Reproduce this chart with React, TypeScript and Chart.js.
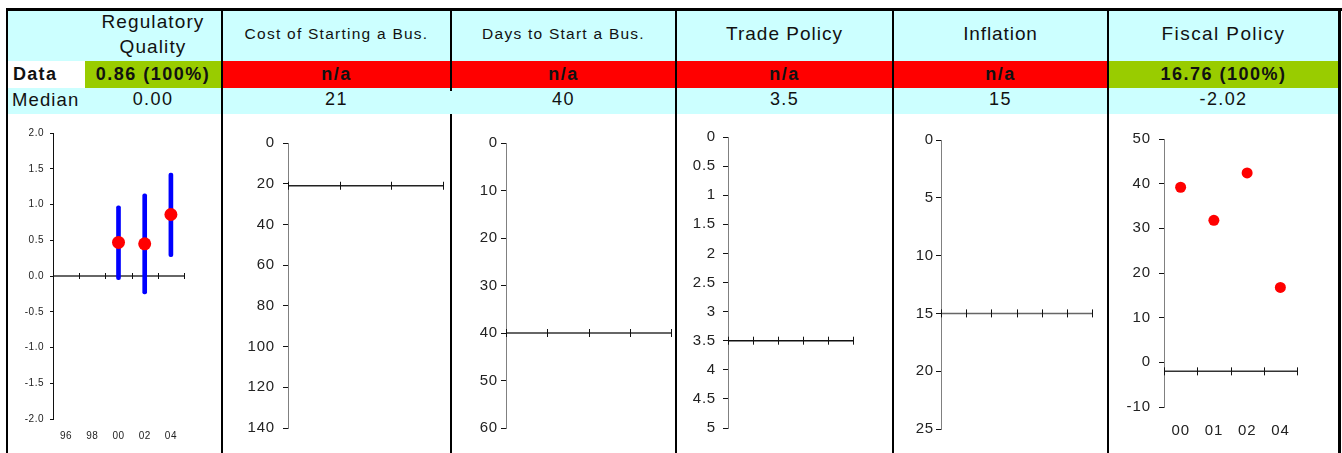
import React, { useEffect, useRef } from 'react';
import { Chart, registerables } from 'chart.js';

Chart.register(...registerables);

// ---------- DATA ----------
const HEADER_TITLES = ['Regulatory Quality', 'Cost of Starting a Bus.', 'Days to Start a Bus.', 'Trade Policy', 'Inflation', 'Fiscal Policy'];
const DATA_LABELS = ['0.86 (100%)', 'n/a', 'n/a', 'n/a', 'n/a', '16.76 (100%)'];
const DATA_AVAILABLE = [true, false, false, false, false, true];
const MEDIAN_LABELS = ['0.00', '21', '40', '3.5', '15', '-2.02'];

// Regulatory Quality
const REG_YEARS = ['96', '98', '00', '02', '04'];
const REG_VALUES = [null, null, 0.47, 0.45, 0.86];
const REG_LOW = [null, null, -0.05, -0.25, 0.27];
const REG_HIGH = [null, null, 0.98, 1.15, 1.44];
const REG_MEDIAN = 0.0;

// Cost of Starting a Business (no data)
const COST_CATS = ['', '', ''];
const COST_VALUES = [null, null, null];
const COST_MEDIAN = 21;

// Days to Start a Business (no data)
const DAYS_CATS = ['', '', '', ''];
const DAYS_VALUES = [null, null, null, null];
const DAYS_MEDIAN = 40;

// Trade Policy (no data)
const TRADE_CATS = ['', '', '', '', ''];
const TRADE_VALUES = [null, null, null, null, null];
const TRADE_MEDIAN = 3.5;

// Inflation (no data)
const INFL_CATS = ['', '', '', '', '', ''];
const INFL_VALUES = [null, null, null, null, null, null];
const INFL_MEDIAN = 15;

// Fiscal Policy
const FISC_YEARS = ['00', '01', '02', '04'];
const FISC_VALUES = [39.2, 31.8, 42.4, 16.76];
const FISC_MEDIAN = -2.02;

// ---------- STYLE ----------
const FONT = '"Liberation Sans", Arial, Helvetica, sans-serif';
const CYAN = '#CCFFFF';
const GREEN = '#99CC00';
const RED = '#FF0000';
const COLS = [
  { l: 8, r: 221 },
  { l: 223, r: 450 },
  { l: 452, r: 675 },
  { l: 677, r: 892 },
  { l: 894, r: 1107 },
  { l: 1109, r: 1338 },
];
const HEADER_FONT = [19, 15.5, 15.5, 19, 19, 19];
const HEADER_LS = [1.1, 1.25, 1.25, 1.0, 0.9, 1.4];
const CHART_TOP = 115;
const CHART_H = 338;

// ---------- PLUGINS ----------
const medianLine = {
  id: 'medianLine',
  beforeDatasetsDraw(chart: any, _args: any, opts: any) {
    if (opts == null || opts.value == null) return;
    const { ctx, chartArea } = chart;
    const y = chart.scales.y.getPixelForValue(opts.value);
    const n = chart.data.labels.length;
    const x0 = chartArea.left;
    const x1 = chartArea.right;
    ctx.save();
    ctx.strokeStyle = opts.color;
    ctx.lineWidth = opts.width;
    ctx.beginPath();
    ctx.moveTo(x0, y);
    ctx.lineTo(x1, y);
    ctx.stroke();
    ctx.strokeStyle = opts.tickColor;
    ctx.lineWidth = 1;
    ctx.beginPath();
    for (let i = 0; i <= n; i++) {
      const x = Math.round(x0 + (i * (x1 - x0)) / n) + 0.5;
      ctx.moveTo(x, y - opts.tick);
      ctx.lineTo(x, y + opts.tick);
    }
    ctx.stroke();
    ctx.restore();
  },
};

const spacing = {
  id: 'spacing',
  beforeDraw(chart: any, _args: any, opts: any) {
    try {
      (chart.ctx as any).letterSpacing = (opts && opts.px ? opts.px : 0) + 'px';
    } catch (e) {}
  },
};

type YOpts = {
  min: number; max: number; step: number; reverse: boolean; width: number; pad: number;
  tickLen: number; size: number; border: string; fmt?: (v: number) => string;
};

function yAxis(o: YOpts) {
  const ticks: any = {
    stepSize: o.step, padding: o.pad, color: '#222', autoSkip: false,
    font: { family: FONT, size: o.size },
  };
  if (o.fmt) ticks.callback = (v: any) => o.fmt!(Number(v));
  return {
    type: 'linear', min: o.min, max: o.max, reverse: o.reverse,
    afterFit: (s: any) => { s.width = o.width; },
    border: { display: true, color: o.border, width: 1 },
    grid: { drawOnChartArea: false, drawTicks: true, tickLength: o.tickLen, color: '#111', lineWidth: 1 },
    ticks,
  };
}

function xAxis(show: boolean, height: number, pad: number, size: number) {
  return {
    type: 'category', offset: true, display: show,
    afterFit: (s: any) => { s.height = height; },
    border: { display: false },
    grid: { display: false, drawTicks: false },
    ticks: { padding: pad, color: '#222', autoSkip: false, maxRotation: 0, font: { family: FONT, size } },
  };
}

function baseOptions(layout: any, scales: any, median: any, ls: number) {
  return {
    responsive: false,
    animation: false,
    devicePixelRatio: 1,
    layout: { padding: layout },
    scales,
    plugins: {
      legend: { display: false },
      tooltip: { enabled: false },
      medianLine: median,
      spacing: { px: ls },
    },
  };
}

const plain = (v: number) => String(Math.round(v * 100) / 100);

function emptyConfig(cats: string[], values: (number | null)[], median: number, y: YOpts, layout: any, lineColor: string) {
  return {
    type: 'line',
    data: { labels: cats, datasets: [{ data: values, showLine: false, pointRadius: 0 }] },
    options: baseOptions(layout, { x: xAxis(false, 0, 0, 12), y: yAxis(y) },
      { value: median, color: lineColor, tickColor: '#111', width: 1.5, tick: 4 }, 0.8),
    plugins: [medianLine, spacing],
  };
}

const PANELS: { col: number; make: () => any }[] = [
  {
    col: 0,
    make: () => ({
      type: 'bar',
      data: {
        labels: REG_YEARS,
        datasets: [
          {
            type: 'line', data: REG_VALUES, showLine: false, pointRadius: 6.5, pointHoverRadius: 6.5,
            pointBackgroundColor: RED, pointBorderColor: RED, pointBorderWidth: 0, order: 0,
          },
          {
            type: 'bar',
            data: REG_YEARS.map((_, i) => (REG_LOW[i] == null ? null : [REG_LOW[i], REG_HIGH[i]])),
            backgroundColor: '#0000FF', barThickness: 4, borderRadius: 2, borderSkipped: false, order: 1,
          },
        ],
      },
      options: baseOptions(
        { left: 0, right: 37, top: 18, bottom: 0 },
        {
          x: xAxis(true, 34, 11, 10),
          y: yAxis({ min: -2, max: 2, step: 0.5, reverse: false, width: 45, pad: 6, tickLen: 3, size: 10, border: '#111', fmt: (v) => v.toFixed(1) }),
        },
        { value: REG_MEDIAN, color: '#333', tickColor: '#111', width: 1.3, tick: 3 },
        0.5
      ),
      plugins: [medianLine, spacing],
    }),
  },
  {
    col: 1,
    make: () => emptyConfig(COST_CATS, COST_VALUES, COST_MEDIAN,
      { min: 0, max: 140, step: 20, reverse: true, width: 65, pad: 8, tickLen: 5, size: 15, border: '#808080', fmt: plain },
      { left: 0, right: 7, top: 28, bottom: 25 }, '#222'),
  },
  {
    col: 2,
    make: () => emptyConfig(DAYS_CATS, DAYS_VALUES, DAYS_MEDIAN,
      { min: 0, max: 60, step: 10, reverse: true, width: 54, pad: 3, tickLen: 5, size: 15, border: '#808080', fmt: plain },
      { left: 0, right: 4, top: 28, bottom: 25 }, '#333'),
  },
  {
    col: 3,
    make: () => emptyConfig(TRADE_CATS, TRADE_VALUES, TRADE_MEDIAN,
      { min: 0, max: 5, step: 0.5, reverse: true, width: 51, pad: 7, tickLen: 5, size: 15, border: '#808080', fmt: plain },
      { left: 0, right: 39, top: 22, bottom: 25 }, '#111'),
  },
  {
    col: 4,
    make: () => emptyConfig(INFL_CATS, INFL_VALUES, INFL_MEDIAN,
      { min: 0, max: 25, step: 5, reverse: true, width: 47, pad: 2, tickLen: 5, size: 15, border: '#808080', fmt: plain },
      { left: 0, right: 15, top: 25, bottom: 24 }, '#666'),
  },
  {
    col: 5,
    make: () => ({
      type: 'line',
      data: {
        labels: FISC_YEARS,
        datasets: [{
          data: FISC_VALUES, showLine: false, pointRadius: 5.5, pointHoverRadius: 5.5,
          pointBackgroundColor: RED, pointBorderColor: RED, pointBorderWidth: 0,
        }],
      },
      options: baseOptions(
        { left: 0, right: 41, top: 24, bottom: 0 },
        {
          x: xAxis(true, 46, 15, 15),
          y: yAxis({ min: -10, max: 50, step: 10, reverse: false, width: 55, pad: 8, tickLen: 5, size: 15, border: '#808080', fmt: plain }),
        },
        { value: FISC_MEDIAN, color: '#333', tickColor: '#111', width: 1.5, tick: 4 },
        0.9
      ),
      plugins: [medianLine, spacing],
    }),
  },
];

// ---------- COMPONENTS ----------
function ChartPanel({ col, make }: { col: number; make: () => any }) {
  const ref = useRef<HTMLCanvasElement>(null);
  const c = COLS[col];
  const w = c.r - c.l;
  useEffect(() => {
    const chart = new Chart(ref.current as HTMLCanvasElement, make());
    return () => chart.destroy();
  }, []);
  return (
    <canvas
      ref={ref}
      width={w}
      height={CHART_H}
      style={{ position: 'absolute', left: c.l, top: CHART_TOP, width: w, height: CHART_H }}
    />
  );
}

function box(l: number, t: number, w: number, h: number, bg: string): React.CSSProperties {
  return { position: 'absolute', left: l, top: t, width: w, height: h, background: bg };
}

function TextCell(props: { l: number; t: number; w: number; h: number; text: string; size: number; ls: number; bold?: boolean; align?: string; lh?: number; padL?: number }) {
  return (
    <div
      style={{
        position: 'absolute', left: props.l, top: props.t, width: props.w, height: props.h,
        display: 'flex', alignItems: 'center',
        justifyContent: props.align === 'left' ? 'flex-start' : 'center',
        paddingLeft: props.padL || 0, boxSizing: 'border-box',
        textAlign: 'center', fontFamily: FONT, fontSize: props.size, letterSpacing: props.ls,
        fontWeight: props.bold ? 'bold' : 'normal', color: '#111',
        lineHeight: props.lh ? props.lh + 'px' : 'normal', whiteSpace: props.lh ? 'normal' : 'nowrap',
      }}
    >
      <span>{props.text}</span>
    </div>
  );
}

export default function App() {
  const headerL = (i: number) => (i === 0 ? 85 : COLS[i].l);
  return (
    <div style={{ position: 'absolute', left: 0, top: 0, width: 1342, height: 453, overflow: 'hidden', background: '#fff' }}>
      {/* row backgrounds */}
      <div style={box(8, 11, 1331, 50, CYAN)} />
      <div style={box(8, 88, 1331, 26, CYAN)} />
      <div style={box(8, 61, 77, 27, '#fff')} />
      {COLS.map((c, i) => (
        <div key={'d' + i} style={box(headerL(i), 61, c.r - headerL(i), 27, DATA_AVAILABLE[i] ? GREEN : RED)} />
      ))}

      {/* header texts */}
      {HEADER_TITLES.map((t, i) => (
        <TextCell key={'h' + i} l={headerL(i)} t={9} w={COLS[i].r - headerL(i)} h={50} text={t}
          size={HEADER_FONT[i]} ls={HEADER_LS[i]} lh={i === 0 ? 25 : undefined} />
      ))}

      {/* data row */}
      <TextCell l={8} t={61} w={77} h={27} text="Data" size={18} ls={1.3} bold align="left" padL={5} />
      {DATA_LABELS.map((t, i) => (
        <TextCell key={'v' + i} l={headerL(i)} t={61} w={COLS[i].r - headerL(i)} h={27} text={t} size={18} ls={1.5} bold />
      ))}

      {/* median row */}
      <TextCell l={8} t={87} w={77} h={25} text="Median" size={18.5} ls={1.1} align="left" padL={4} />
      {MEDIAN_LABELS.map((t, i) => (
        <TextCell key={'m' + i} l={headerL(i)} t={87} w={COLS[i].r - headerL(i)} h={25} text={t} size={18} ls={1.4} />
      ))}

      {/* charts */}
      {PANELS.map((p) => (
        <ChartPanel key={'c' + p.col} col={p.col} make={p.make} />
      ))}

      {/* grid lines */}
      <div style={box(6, 8, 1336, 3, '#000')} />
      <div style={box(6, 8, 2, 445, '#000')} />
      <div style={box(221, 8, 2, 445, '#000')} />
      <div style={box(450, 8, 2, 83, '#000')} />
      <div style={box(450, 114, 2, 339, '#000')} />
      <div style={box(675, 8, 2, 445, '#000')} />
      <div style={box(892, 8, 2, 445, '#000')} />
      <div style={box(1107, 8, 2, 445, '#000')} />
      <div style={box(1338, 8, 3, 445, '#000')} />
    </div>
  );
}
